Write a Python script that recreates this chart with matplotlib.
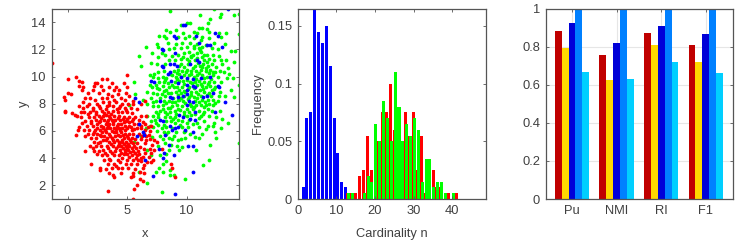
import numpy as np
import matplotlib
matplotlib.use('Agg')
import matplotlib.pyplot as plt

W, H = 739, 240
plt.rcParams['font.family'] = ['Liberation Sans', 'DejaVu Sans']
plt.rcParams['font.size'] = 9.3
TEXT = '#404040'
EDGE = '#555555'

green_xy = [
    8.6,14.8, 12.3,15.0, 14.4,14.6, 14.0,14.5, 12.9,14.6, 11.1,14.5, 12.0,14.2, 12.8,14.4, 11.8,13.9,
    10.3,13.9, 9.5,13.8, 10.0,13.9, 11.0,13.6, 11.3,13.6, 11.7,13.5, 8.3,13.4, 8.6,13.3, 9.1,13.4, 9.7,13.2,
    10.6,13.3, 10.9,13.2, 11.9,13.3, 12.7,13.2, 13.3,13.2, 14.4,13.1, 7.7,13.0, 8.1,13.0, 8.3,12.8, 9.3,12.9,
    9.9,12.8, 10.2,13.0, 10.6,12.8, 11.3,12.9, 11.9,12.8, 12.9,12.9, 7.5,12.4, 8.4,12.5, 9.1,12.4, 9.6,12.5,
    10.3,12.5, 10.9,12.4, 11.2,12.7, 11.6,12.3, 12.3,12.5, 13.2,12.4, 6.6,12.2, 7.6,12.2, 7.9,11.7, 8.5,12.0,
    8.9,12.1, 9.5,12.1, 10.0,12.2, 10.6,12.1, 11.0,12.1, 11.3,12.2, 12.1,12.1, 12.6,12.0, 13.7,11.9, 14.1,11.9,
    7.1,11.7, 7.6,11.4, 8.2,11.6, 8.8,11.5, 9.3,11.6, 9.8,11.7, 10.2,11.8, 10.5,11.6, 10.9,11.7, 11.2,11.8,
    11.7,11.6, 12.2,11.6, 12.7,11.5, 6.0,11.5, 8.5,11.2, 9.0,11.2, 9.5,11.3, 10.0,11.3, 10.4,11.4, 10.7,11.2,
    11.3,11.4, 11.5,11.2, 11.9,11.3, 12.3,11.2, 12.9,11.2, 13.3,11.2, 14.0,11.1, 6.2,10.8, 7.0,11.0, 7.5,10.9,
    8.2,10.9, 9.5,10.9, 9.8,10.7, 10.1,10.9, 10.7,10.8, 11.1,10.8, 11.4,10.9, 11.8,10.8, 12.1,10.9, 12.5,10.7,
    13.0,10.9, 13.5,10.6, 7.3,10.2, 7.6,10.3, 8.1,10.4, 8.9,10.4, 9.3,10.5, 9.6,10.4, 10.0,10.5, 10.4,10.4,
    10.8,10.4, 11.2,10.5, 11.6,10.4, 12.0,10.5, 12.4,10.3, 12.8,10.4, 13.1,10.3, 13.6,10.2, 6.9,10.1, 7.2,10.0,
    7.6,9.9, 8.0,10.0, 8.3,9.9, 8.8,10.1, 9.1,10.0, 9.4,10.2, 9.8,10.1, 10.2,10.1, 10.6,10.0, 10.9,10.1,
    11.3,10.1, 11.7,10.0, 12.2,10.1, 12.6,10.0, 13.4,9.9, 13.9,9.9, 5.6,9.6, 6.9,9.4, 7.4,9.4, 7.7,9.6, 8.1,9.6,
    8.4,9.5, 9.0,9.6, 9.2,9.8, 9.7,9.7, 10.3,9.6, 10.7,9.6, 11.0,9.7, 11.5,9.6, 11.9,9.6, 12.3,9.6, 12.9,9.6,
    7.1,9.2, 7.7,9.1, 8.0,9.3, 8.3,9.0, 8.9,9.2, 9.2,9.2, 9.6,9.2, 10.2,9.2, 10.9,9.4, 11.3,9.3, 11.6,9.2,
    12.0,9.3, 12.4,9.2, 12.8,8.9, 13.7,9.0, 14.4,9.4, 6.7,8.9, 7.2,8.8, 7.5,8.7, 7.9,8.7, 8.2,8.6, 8.7,8.8,
    9.1,8.9, 9.5,8.8, 9.9,8.9, 10.4,8.9, 10.8,8.9, 11.1,9.0, 11.5,8.9, 11.9,8.8, 12.3,9.1, 12.7,8.6, 13.2,8.6,
    14.0,8.5, 5.7,8.7, 6.3,8.3, 7.0,8.4, 7.4,8.2, 8.1,8.2, 8.5,8.2, 9.0,8.1, 9.4,8.3, 9.7,8.2, 10.2,8.5,
    10.6,8.5, 10.9,8.4, 11.3,8.3, 11.8,8.3, 12.2,8.3, 12.6,8.2, 5.2,7.9, 6.7,8.0, 7.2,7.8, 7.6,7.8, 8.0,7.9,
    8.4,7.7, 8.8,7.8, 9.2,7.9, 9.6,7.8, 10.4,7.8, 10.8,7.9, 11.2,7.9, 11.6,7.9, 11.9,8.0, 12.2,7.9, 7.4,7.4,
    7.8,7.5, 8.2,7.4, 8.6,7.4, 9.0,7.5, 9.3,7.6, 9.8,7.4, 10.2,7.4, 10.5,7.6, 11.0,7.5, 11.5,7.4, 12.1,7.5,
    12.8,7.5, 6.7,7.1, 7.2,7.1, 7.6,7.0, 8.2,7.0, 8.6,7.0, 9.0,7.0, 10.0,7.1, 10.4,7.2, 11.2,7.1, 11.9,7.1,
    12.5,7.0, 13.0,6.9, 7.0,6.7, 7.4,6.6, 8.3,6.7, 8.7,6.7, 9.0,6.6, 9.6,6.7, 10.0,6.6, 10.9,6.6, 11.5,6.7,
    12.3,6.6, 13.5,6.6, 6.6,6.2, 7.2,6.3, 7.9,6.2, 8.3,6.3, 9.6,6.3, 10.1,6.3, 11.0,6.3, 11.8,6.4, 12.2,6.4,
    12.9,6.2, 7.5,6.0, 8.4,5.9, 9.1,5.9, 10.3,5.8, 11.3,5.8, 12.4,5.9, 6.2,5.6, 7.8,5.6, 8.0,5.4, 8.5,5.5,
    8.8,5.4, 9.5,5.4, 9.9,5.5, 11.0,5.5, 12.5,5.5, 5.6,5.2, 8.2,5.1, 8.7,5.0, 9.2,4.9, 9.6,4.8, 12.0,5.0,
    14.4,5.1, 6.7,4.6, 7.6,4.9, 8.5,4.6, 9.4,4.6, 10.8,4.6, 7.0,4.2, 8.3,4.3, 11.9,3.9, 8.3,3.8, 8.0,3.6,
    7.7,3.3, 11.4,3.5, 7.4,3.0, 8.0,3.0, 8.6,3.1, 8.9,2.8, 8.6,2.8, 6.0,3.0, 6.7,2.2, 9.9,2.5, 7.9,1.5,
]

# the dense middle of the green cloud
green_core_xy = [
    10.63,12.27, 11.12,11.96, 10.37,11.53, 11.47,11.58, 10.86,11.37, 9.72,11.42, 11.74,11.06, 10.23,11.13,
    10.94,10.98, 11.26,10.72, 9.37,10.77, 10.52,10.63, 11.63,10.61, 9.91,10.32, 11.04,10.24, 11.87,10.28,
    9.17,10.27, 10.33,10.18, 12.23,10.37, 8.63,10.16, 9.53,9.93, 10.76,9.84, 11.42,9.87, 8.22,9.77, 10.07,9.76,
    12.08,9.83, 9.36,9.68, 10.48,9.53, 11.18,9.47, 8.76,9.38, 9.82,9.44, 11.77,9.42, 7.52,9.14, 8.53,9.24,
    10.12,9.06, 10.63,9.13, 11.38,9.06, 12.17,9.02, 9.33,9.03, 8.07,8.94, 9.74,8.97, 10.92,8.74, 11.68,8.64,
    7.73,8.43, 8.42,8.77, 9.27,8.67, 9.82,8.57, 10.36,8.63, 11.17,8.58, 12.04,8.55, 8.84,8.44, 9.54,8.42,
    10.08,8.33, 10.74,8.22, 11.52,8.12, 12.41,8.03, 7.17,8.12, 8.28,8.02, 8.77,8.13, 9.24,8.24, 9.86,8.06,
    10.27,7.98, 11.03,8.14, 11.43,7.73, 8.03,7.63, 8.62,7.66, 9.47,7.56, 10.06,7.62, 10.62,7.74, 11.76,7.63,
    7.57,7.26, 8.38,7.24, 9.13,7.27, 9.74,7.18, 10.72,7.26, 11.41,7.22, 8.83,6.86, 9.27,6.83, 10.23,6.77,
    11.08,6.93, 8.12,6.47, 9.48,6.46, 10.53,6.48, 8.74,6.24, 9.83,6.02, 8.27,5.77, 8.93,5.63, 9.28,5.34,
    9.74,5.96, 8.06,5.92, 7.63,6.42, 7.34,6.84, 11.62,6.13, 10.72,5.53, 6.93,6.36, 7.12,5.58, 7.74,4.23,
]

red_xy = [
    -1.35,11.0, 0.7,10.0, 5.0,10.1, 2.9,9.8, 3.3,9.8, 0.0,9.8, 1.0,9.7, 1.2,9.6, 2.3,9.5, 2.5,9.5, 3.7,9.5,
    4.7,9.5, 1.0,9.3, 1.3,9.2, 2.2,9.3, 2.8,9.3, 3.5,9.2, 4.1,9.2, 5.0,9.2, 1.2,9.0, 2.1,9.0, 3.0,9.0, 3.9,9.0,
    4.3,9.0, 0.0,8.8, 0.3,8.7, 1.7,8.8, 2.6,8.8, 3.4,8.7, 3.7,8.6, 4.2,8.7, 4.9,8.8, 5.2,8.6, -0.3,8.5, -0.2,8.3,
    1.5,8.4, 1.9,8.4, 2.3,8.3, 2.9,8.4, 3.3,8.4, 3.9,8.3, 4.5,8.4, 4.8,8.3, 5.5,8.2, 5.5,8.0, 6.5,8.2, 1.3,8.1,
    1.8,8.0, 2.5,8.0, 3.0,8.1, 3.5,8.1, 4.1,8.1, 4.6,8.0, 5.1,8.0, 6.2,8.0, -0.2,7.5, -0.25,7.4, 1.0,7.8, 1.3,7.7,
    1.6,7.8, 2.1,7.7, 2.7,7.7, 3.3,7.8, 3.8,7.8, 4.3,7.7, 4.8,7.7, 5.3,7.7, 5.8,7.6, 0.4,7.3, 0.6,7.2, 1.1,7.4,
    1.4,7.4, 1.9,7.4, 2.4,7.4, 2.9,7.5, 3.4,7.4, 3.8,7.5, 4.2,7.4, 4.6,7.4, 5.0,7.4, 5.4,7.3, 0.8,7.1, 1.1,7.0,
    1.8,7.0, 2.2,7.0, 2.6,7.1, 3.0,7.1, 3.2,7.2, 3.5,7.1, 3.9,7.1, 4.3,7.1, 4.7,7.0, 5.2,7.0, 5.7,7.0, 6.2,7.1,
    6.6,7.1, 1.5,6.7, 2.0,6.7, 2.4,6.8, 2.7,6.7, 3.1,6.8, 3.4,6.8, 3.7,6.8, 4.0,6.8, 4.4,6.8, 4.9,6.7, 5.4,6.7,
    6.0,6.8, 1.0,6.3, 1.6,6.4, 2.1,6.4, 2.5,6.5, 2.8,6.4, 3.2,6.5, 3.5,6.5, 3.8,6.5, 4.2,6.5, 4.5,6.5, 4.8,6.4,
    5.2,6.4, 5.6,6.5, 6.2,6.4, 6.5,6.5, 7.0,6.4, 0.9,6.1, 1.4,6.1, 1.8,6.1, 2.3,6.1, 2.7,6.1, 3.0,6.2, 3.3,6.2,
    3.6,6.2, 3.9,6.2, 4.3,6.2, 4.6,6.2, 5.0,6.2, 5.4,6.1, 5.8,6.2, 6.2,6.2, 6.5,6.1, 6.9,6.0, 0.7,5.7, 1.7,5.8,
    2.1,5.8, 2.5,5.8, 2.9,5.9, 3.2,5.9, 3.5,5.8, 3.9,5.9, 4.1,5.9, 4.5,5.9, 4.8,5.8, 5.2,5.8, 5.5,5.8, 6.0,5.8,
    6.4,5.8, 6.8,5.7, 2.0,5.5, 2.4,5.5, 2.8,5.6, 3.3,5.5, 3.7,5.5, 4.0,5.6, 4.4,5.6, 4.7,5.5, 5.1,5.5, 5.4,5.5,
    5.7,5.4, 6.2,5.4, 6.9,5.4, 7.3,5.3, 2.2,5.2, 2.7,5.2, 3.0,5.3, 3.5,5.2, 3.9,5.2, 4.3,5.2, 4.6,5.2, 4.9,5.2,
    5.3,5.2, 5.8,5.1, 6.5,5.1, 7.1,5.0, 7.5,5.2, 1.9,4.9, 2.4,4.9, 2.8,4.9, 3.3,4.9, 3.8,4.9, 4.2,4.9, 4.5,4.9,
    4.9,4.9, 5.2,4.9, 5.6,4.9, 6.1,4.8, 6.9,4.7, 7.3,4.6, 7.9,4.7, 1.5,4.5, 2.2,4.5, 2.6,4.5, 3.0,4.6, 3.6,4.5,
    4.0,4.5, 4.4,4.6, 4.8,4.6, 5.1,4.6, 5.5,4.5, 5.9,4.5, 6.5,4.4, 7.0,4.4, 2.5,4.3, 2.9,4.2, 3.3,4.2, 3.9,4.2,
    4.3,4.2, 4.7,4.3, 5.0,4.3, 5.4,4.2, 5.8,4.2, 6.3,4.1, 6.8,4.1, 3.1,3.9, 3.6,3.9, 4.2,3.9, 4.6,4.0, 5.0,3.9,
    5.5,3.9, 5.9,3.9, 6.2,3.8, 6.7,3.7, 7.2,3.9, 2.0,3.6, 3.4,3.6, 3.9,3.6, 4.4,3.7, 4.9,3.6, 5.3,3.6, 5.8,3.6,
    6.4,3.5, 7.0,3.7, 8.7,3.6, 2.7,3.3, 2.7,3.1, 3.2,3.2, 3.7,3.3, 4.2,3.3, 4.6,3.3, 5.1,3.3, 5.7,3.2, 6.3,3.3,
    8.8,3.3, 3.5,2.9, 3.8,2.8, 4.5,2.9, 5.5,2.9, 6.1,3.0, 6.4,2.9, 3.9,2.6, 5.5,2.7, 6.1,2.5, 5.3,2.6, 6.3,2.3,
    9.0,2.6, 5.8,2.0, 3.4,1.6, 5.6,1.7, 5.5,1.0,
]

# the dense middle of the red cloud
red_core_xy = [
    3.23,7.63, 3.68,7.27, 2.37,7.23, 4.13,7.58, 3.06,7.34, 3.57,6.96, 2.83,6.92, 4.22,6.93, 3.84,6.66, 3.27,6.63,
    4.63,6.87, 2.64,6.63, 4.12,6.37, 3.43,6.34, 2.96,6.27, 4.73,6.63, 3.71,6.03, 4.37,6.04, 3.14,6.04, 5.12,6.63,
    4.83,6.06, 2.46,6.24, 1.93,6.57, 5.36,6.28, 4.04,6.14, 3.56,5.66, 4.26,5.72, 4.63,5.72, 2.73,5.72, 3.04,5.63,
    5.03,5.64, 5.62,6.17, 3.82,5.36, 4.17,5.37, 4.54,5.34, 5.24,5.36, 3.21,5.37, 4.77,5.07, 5.07,5.03, 5.48,5.08,
    4.36,5.04, 3.67,5.04, 4.06,4.74, 4.64,4.76, 5.03,4.74, 5.37,4.73, 5.76,4.76, 3.43,4.72, 4.83,4.43, 5.26,4.42,
    5.63,4.36, 6.04,4.34, 4.47,4.37, 3.73,4.38, 5.17,4.06, 5.74,4.03, 6.14,4.02, 6.43,4.67, 6.23,5.63, 6.57,5.62,
    6.72,6.27, 6.34,6.64, 5.93,6.53, 5.47,6.88, 4.97,6.87, 1.24,6.62, 1.73,7.22, 2.12,7.53, 2.63,7.84, 3.52,7.93,
    4.41,7.87, 4.92,7.53, 2.24,5.96, 1.47,5.63, 2.58,5.13, 2.14,4.73, 3.16,4.37, 3.47,3.97, 4.09,3.44, 6.62,5.33,
]

blue_xy = [
    13.5,15.0, 12.4,13.2, 12.6,13.0, 9.9,13.8, 9.7,13.8, 8.9,13.0, 9.1,12.8, 10.8,13.0, 11.0,12.5, 11.7,12.3,
    12.0,12.3, 13.0,12.2, 7.9,12.0, 8.0,11.95, 9.0,11.7, 10.9,11.2, 11.0,11.1, 10.3,10.9, 8.6,10.9, 8.9,10.9,
    9.2,10.8, 7.9,10.8, 8.0,10.7, 8.6,10.3, 8.4,10.2, 12.0,10.0, 11.2,9.9, 9.5,10.0, 10.0,9.9, 10.5,9.8, 7.0,9.7,
    7.3,9.6, 8.7,9.7, 9.3,9.5, 10.0,9.4, 10.5,9.3, 10.7,9.2, 12.6,9.3, 12.7,9.2, 12.2,8.8, 11.7,8.6, 11.4,8.5,
    10.0,9.0, 10.0,8.7, 9.7,8.6, 9.3,8.5, 8.6,8.5, 8.8,8.4, 7.8,8.2, 10.2,8.2, 10.5,8.1, 10.0,7.9, 6.0,8.1, 5.7,8.4,
    13.2,8.1, 12.4,7.4, 13.8,7.2, 10.7,7.4, 9.4,7.2, 9.7,7.0, 10.3,6.9, 10.7,6.8, 7.8,6.8, 8.0,6.7, 8.6,6.4, 9.3,6.3,
    9.0,6.2, 8.8,6.1, 9.9,6.1, 10.5,5.9, 8.2,5.7, 6.0,6.5, 6.3,5.9, 5.8,5.6, 6.4,5.7, 8.5,5.0, 10.1,4.9, 10.5,4.9,
    7.7,4.7, 8.1,4.4, 8.9,4.2, 8.0,4.0, 6.5,3.9, 10.5,3.0, 7.2,2.7, 9.0,1.4,
]

# histogram, frequency by cardinality
blue_n = [1, 2, 3, 4, 5, 6, 7, 8, 9, 10, 11, 12]
blue_freq = [0.01, 0.07, 0.075, 0.165, 0.145, 0.135, 0.15, 0.115, 0.07, 0.04, 0.015, 0.01]
red_n = [13, 14, 15, 16, 17, 18, 19, 20, 21, 22, 23, 24, 25, 26, 27, 28, 29, 30, 31, 32, 33, 34, 35, 36, 37, 39, 41]
red_freq = [0.005, 0.005, 0.005, 0.02, 0.025, 0.055, 0.025, 0.04, 0.05, 0.075, 0.075, 0.1, 0.06, 0.03, 0.03,
            0.075, 0.055, 0.075, 0.025, 0.055, 0.005, 0.01, 0.025, 0.01, 0.01, 0.005, 0.005]
green_n = [13, 14, 17, 18, 19, 20, 21, 22, 23, 24, 25, 26, 27, 28, 29, 30, 31, 32, 33, 34, 35, 36, 37, 38, 40]
green_freq = [0.005, 0.005, 0.005, 0.02, 0.015, 0.065, 0.05, 0.085, 0.07, 0.05, 0.11, 0.08, 0.05, 0.065, 0.055,
              0.07, 0.06, 0.015, 0.035, 0.035, 0.01, 0.015, 0.015, 0.005, 0.005]

# metrics per method
metrics = ['Pu', 'NMI', 'RI', 'F1']
method_values = [
    [0.88, 0.755, 0.87, 0.81],
    [0.795, 0.627, 0.808, 0.718],
    [0.925, 0.817, 0.91, 0.868],
    [1.0, 1.0, 1.0, 1.0],
    [0.665, 0.63, 0.72, 0.663],
]
method_colors = ['#c00000', '#ffd700', '#0000d8', '#0080ff', '#00cfff']


def make_axes(left, right, top=8.5, bottom=199):
    ax = fig.add_axes([left / W, 1 - bottom / H, (right - left) / W, (bottom - top) / H])
    ax.tick_params(direction='in', length=2, width=0.6, top=True, right=True,
                   color=EDGE, labelcolor=TEXT, labelsize=9.3, pad=4)
    for s in ax.spines.values():
        s.set_linewidth(0.9)
        s.set_color(EDGE)
    return ax


fig = plt.figure(figsize=(W / 100, H / 100), dpi=100)

# left panel
ax = make_axes(51.5, 239)
for xy, c in [(green_xy + green_core_xy, '#00ff00'), (red_xy + red_core_xy, '#ff0000'), (blue_xy, '#0000ff')]:
    pts = np.array(xy).reshape(-1, 2)
    ax.scatter(pts[:, 0], pts[:, 1], s=7.5, c=c, linewidths=0, clip_on=True)
ax.set_xlim(-1.35, 14.4)
ax.set_ylim(1, 15)
ax.set_xticks([0, 5, 10])
ax.set_yticks([2, 4, 6, 8, 10, 12, 14])
ax.set_xlabel('x', color=TEXT, fontsize=9.3, labelpad=8)
ax.set_ylabel('y', color=TEXT, fontsize=9.3, labelpad=1)

# middle panel
ax = make_axes(297.7, 486)
ax.bar(np.array(blue_n) + 0.4, blue_freq, width=0.78, color='#0000ff')
ax.bar(red_n, red_freq, width=0.78, color='#ff0000')
ax.bar(np.array(green_n) + 0.2, green_freq, width=0.78, color='#00ff00')
ax.set_xlim(0, 48.7)
ax.set_ylim(0, 0.165)
ax.set_xticks([0, 10, 20, 30, 40])
ax.set_yticks([0, 0.05, 0.1, 0.15])
ax.set_yticklabels(['0', '0.05', '0.1', '0.15'])
ax.set_xlabel('Cardinality n', color=TEXT, fontsize=9.3, labelpad=8)
ax.set_ylabel('Frequency', color=TEXT, fontsize=9.3, labelpad=2)

# right panel
ax = make_axes(545.7, 733)
pos = np.arange(1, len(metrics) + 1)
bar_w = 0.155
ax.set_axisbelow(True)
ax.grid(True, color='#e6e6e6', linewidth=0.8)
for i, vals in enumerate(method_values):
    ax.bar(pos + (i - 2) * bar_w, vals, width=bar_w, color=method_colors[i])
ax.set_xlim(0.41, 4.61)
ax.set_ylim(0, 1)
ax.set_xticks(pos)
ax.set_xticklabels(metrics)
ax.set_yticks([0, 0.2, 0.4, 0.6, 0.8, 1])
ax.set_yticklabels(['0', '0.2', '0.4', '0.6', '0.8', '1'])

plt.savefig('out.png', dpi=100)
